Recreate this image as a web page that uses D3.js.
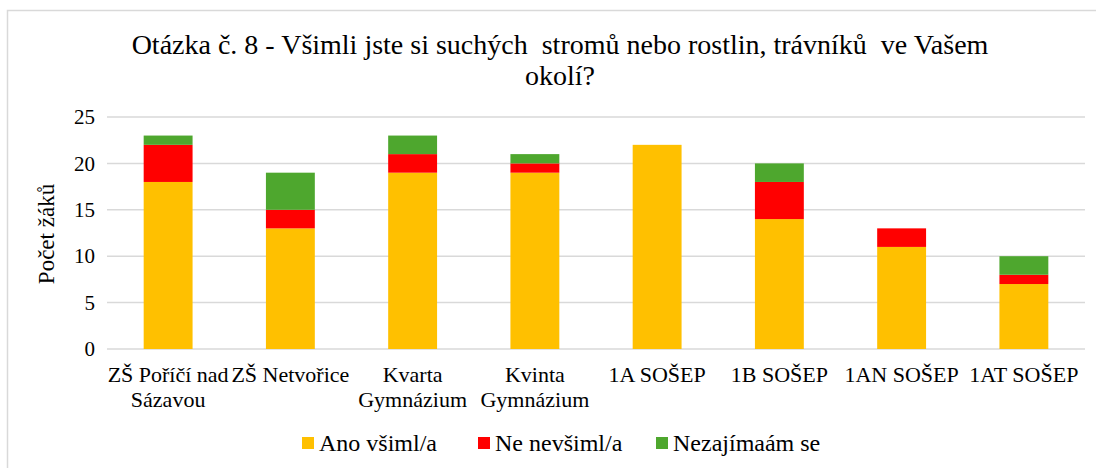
<!DOCTYPE html>
<html><head><meta charset="utf-8">
<script src="https://cdn.jsdelivr.net/npm/d3@7"></script>
<style>
html,body{margin:0;padding:0;background:#fff;}
</style></head>
<body><svg id="c" width="1096" height="468"></svg>
<script>
const categories = [["ZŠ Poříčí nad","Sázavou"],["ZŠ Netvořice"],["Kvarta","Gymnázium"],["Kvinta","Gymnázium"],["1A SOŠEP"],["1B SOŠEP"],["1AN SOŠEP"],["1AT SOŠEP"]];
const seriesNames = ["Ano všiml/a","Ne nevšiml/a","Nezajímaám se"];
const ano = [18,13,19,19,22,14,11,7];
const ne = [4,2,2,1,0,4,2,1];
const nezaj = [1,4,2,1,0,2,0,2];
const yTicks = [0,5,10,15,20,25];
const colors = ["#FFC000","#FF0000","#4EA72E"];
const titleLines = ["Otázka č. 8 - Všimli jste si suchých  stromů nebo rostlin, trávníků  ve Vašem","okolí?"];
const yTitle = "Počet žáků";
const FONT = "'Liberation Serif', 'DejaVu Serif', serif";

const svg = d3.select("#c");
svg.append("rect").attr("x",7.5).attr("y",10.5).attr("width",1200).attr("height",600)
  .attr("fill","#fff").attr("stroke","#d9d9d9").attr("stroke-width",1.5);

const L=107,R=1085,T=117,B=349;
const x = d3.scaleBand().domain(d3.range(categories.length)).range([L,R]).paddingInner(0.6).paddingOuter(0.3);
const y = d3.scaleLinear().domain([0,25]).range([B,T]);

svg.append("g").selectAll("line").data(yTicks).join("line")
  .attr("x1",L).attr("x2",R).attr("y1",d=>y(d)).attr("y2",d=>y(d))
  .attr("stroke","#d9d9d9").attr("stroke-width",1.5);

const rows = categories.map((c,i)=>({i,ano:ano[i],ne:ne[i],nezaj:nezaj[i]}));
const stack = d3.stack().keys(["ano","ne","nezaj"])(rows);
svg.append("g").selectAll("g").data(stack).join("g").attr("fill",(d,k)=>colors[k])
  .selectAll("rect").data(d=>d.filter(p=>p[1]>p[0])).join("rect")
  .attr("x",d=>x(d.data.i)).attr("width",x.bandwidth())
  .attr("y",d=>y(d[1])).attr("height",d=>y(d[0])-y(d[1]));

const yAxis = d3.axisLeft(y).tickValues(yTicks).tickSize(0).tickPadding(12);
const ga = svg.append("g").attr("transform",`translate(${L},0)`).call(yAxis)
  .attr("font-family",FONT).attr("font-size",21);
ga.select(".domain").remove();
ga.selectAll("text").attr("fill","#000");

const xl = svg.append("g").attr("font-family",FONT);
categories.forEach((lines,i)=>{
  const t = xl.append("text").attr("text-anchor","middle").attr("font-size",22)
    .attr("x",x(i)+x.bandwidth()/2).attr("y",382);
  lines.forEach((s,j)=>t.append("tspan").attr("x",x(i)+x.bandwidth()/2).attr("dy",j?25:0).text(s));
});

svg.append("text").attr("font-family",FONT).attr("transform","translate(54,234) rotate(-90)").attr("text-anchor","middle")
  .attr("font-size",23).text(yTitle);

titleLines.forEach((s,j)=>svg.append("text").attr("font-family",FONT).attr("x",560).attr("y",54+j*31)
  .attr("text-anchor","middle").attr("font-size",28).attr("xml:space","preserve").text(s));

const lg = svg.append("g").attr("font-family",FONT);
const legendX = [302,478,656];
seriesNames.forEach((n,k)=>{
  lg.append("rect").attr("x",legendX[k]).attr("y",437).attr("width",12).attr("height",12).attr("fill",colors[k]);
  lg.append("text").attr("x",legendX[k]+17).attr("y",451).attr("font-size",24).text(n);
});
</script></body></html>
